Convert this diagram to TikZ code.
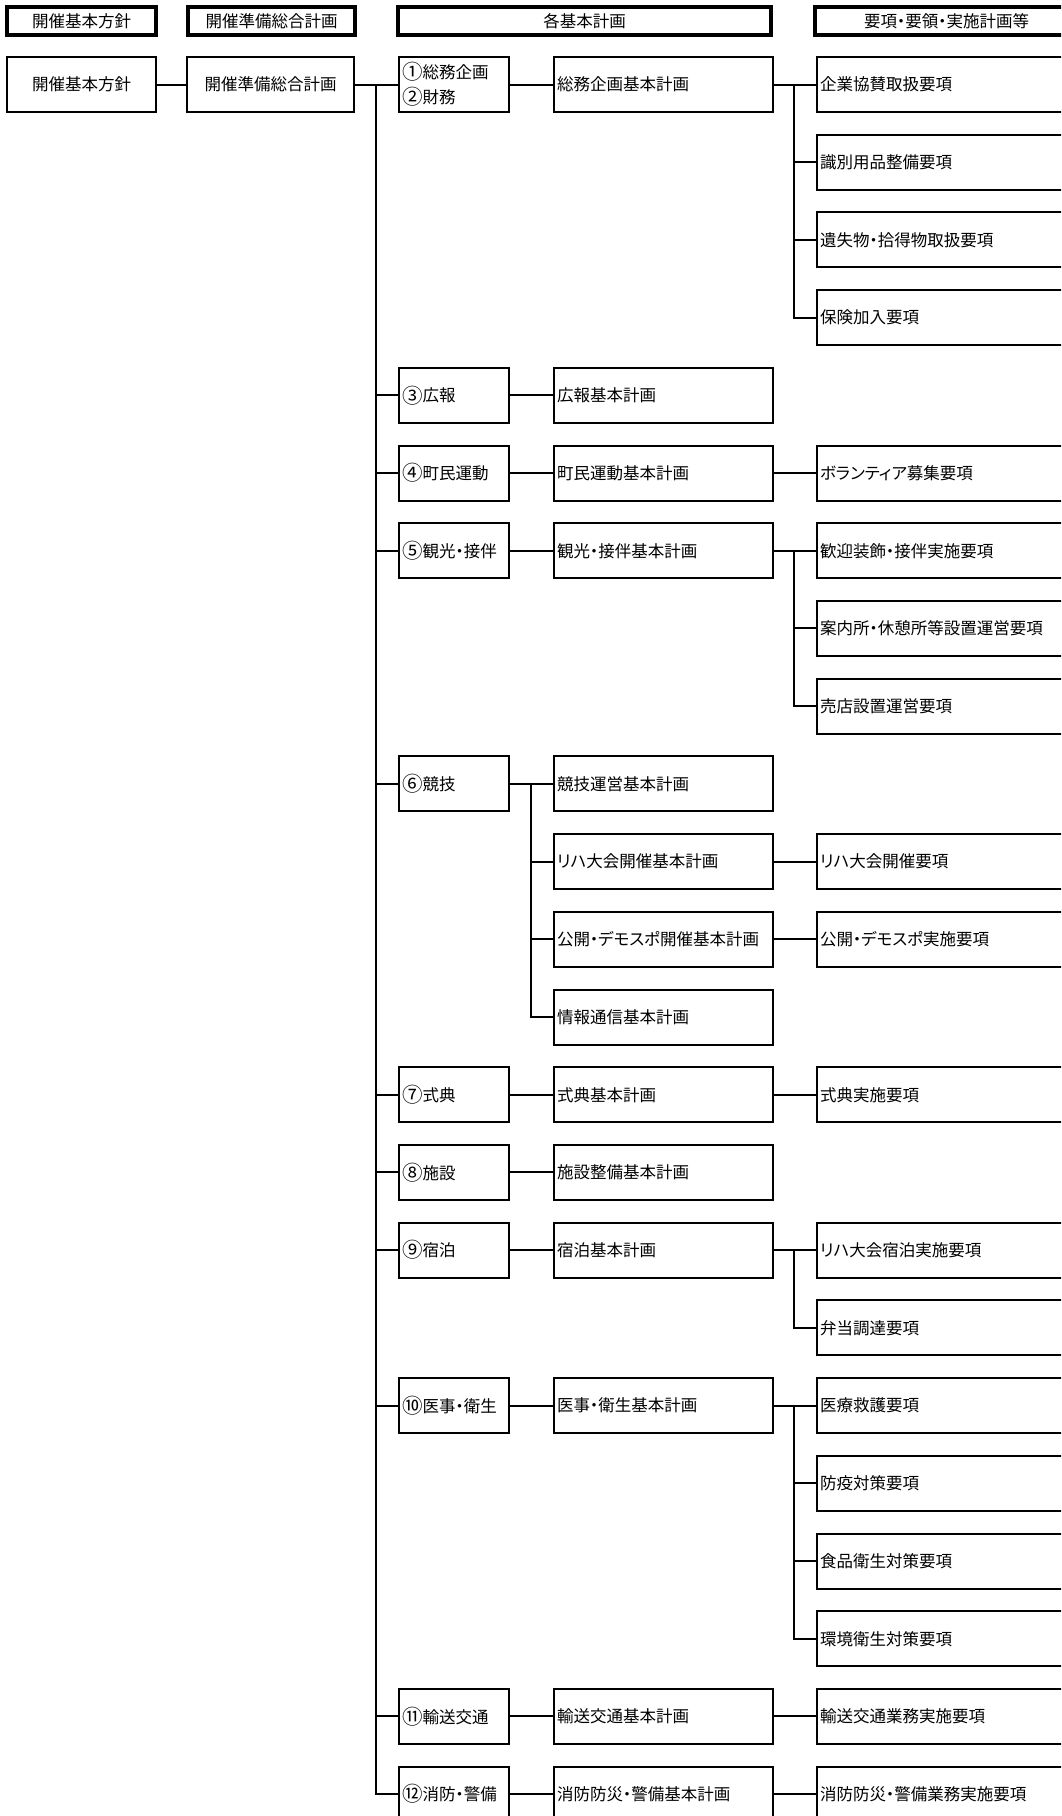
\documentclass[tikz,border=0pt]{standalone}
\usepackage{fontspec}
\setmainfont{Noto Sans CJK JP}[RawFeature=+palt]
\newcommand{\rowy}[1]{{84.5+77.71*#1}}
\newcommand{\cnum}[1]{\raisebox{-1.2pt}{\fontsize{20.5}{25}\selectfont #1}}

\begin{document}
\begin{tikzpicture}[x=1pt,y=-1pt,line width=2pt,
    font=\fontsize{16.5}{25}\selectfont,
    hbox/.style={draw, line width=3.2pt, minimum height=28pt, inner sep=0pt},
    cbox/.style={draw, line width=2pt, minimum height=55pt, inner sep=0pt},
    lbox/.style={draw, line width=2pt, minimum height=55pt, inner xsep=3pt, inner ysep=0pt, anchor=west, align=left},
    grp/.style={lbox, text width=104pt},
    plan/.style={lbox, text width=213pt},
    item/.style={lbox, text width=274pt}]
    \useasboundingbox (0,0) rectangle (1061,1816);
    \clip (0,0) rectangle (1061,1816);

    % column headings
    \node[hbox, minimum width=149pt] (h1) at (81.5,21) {開催基本方針};
    \node[hbox, minimum width=167pt] (h2) at (271.5,21) {開催準備総合計画};
    \node[hbox, minimum width=373pt] (h3) at (584.5,21) {各基本計画};
    \node[hbox, minimum width=263pt] (h4) at (946.5,21) {要項・要領・実施計画等};

    % first two levels
    \node[cbox, minimum width=149pt] (a) at (81.5,\rowy{0}) {開催基本方針};
    \node[cbox, minimum width=167pt] (b) at (270.5,\rowy{0}) {開催準備総合計画};

    % sections
    \node[grp] (c0) at (398,\rowy{0}) {\cnum{①}総務企画\\\cnum{②}財務};
    \foreach \i/\txt in {4/\cnum{③}広報, 5/\cnum{④}町民運動, 6/\cnum{⑤}観光・接伴, 9/\cnum{⑥}競技,
        13/\cnum{⑦}式典, 14/\cnum{⑧}施設, 15/\cnum{⑨}宿泊, 17/\cnum{⑩}医事・衛生,
        21/\cnum{⑪}輸送交通, 22/\cnum{⑫}消防・警備} {
        \node[grp] (c\i) at (398,\rowy{\i}) {\txt};
    }

    % basic plans
    \foreach \i/\txt in {0/総務企画基本計画, 4/広報基本計画, 5/町民運動基本計画, 6/観光・接伴基本計画,
        9/競技運営基本計画, 10/リハ大会開催基本計画, 11/公開・デモスポ開催基本計画, 12/情報通信基本計画,
        13/式典基本計画, 14/施設整備基本計画, 15/宿泊基本計画, 17/医事・衛生基本計画,
        21/輸送交通基本計画, 22/消防防災・警備基本計画} {
        \node[plan] (d\i) at (553,\rowy{\i}) {\txt};
    }

    % items
    \foreach \i/\txt in {0/企業協賛取扱要項, 1/識別用品整備要項, 2/遺失物・拾得物取扱要項, 3/保険加入要項,
        5/ボランティア募集要項, 6/歓迎装飾・接伴実施要項, 7/案内所・休憩所等設置運営要項, 8/売店設置運営要項,
        10/リハ大会開催要項, 11/公開・デモスポ実施要項, 13/式典実施要項, 15/リハ大会宿泊実施要項,
        16/弁当調達要項, 17/医療救護要項, 18/防疫対策要項, 19/食品衛生対策要項, 20/環境衛生対策要項,
        21/輸送交通業務実施要項, 22/消防防災・警備業務実施要項} {
        \node[item] (e\i) at (816,\rowy{\i}) {\txt};
    }

    % trunk
    \draw (a) -- (b);
    \coordinate (t0) at (376,\rowy{0});
    \draw (b) -- (t0);
    \foreach \i in {0,4,5,6,9,13,14,15,17,21,22} {
        \draw (t0) |- (c\i.west);
        \draw (c\i) -- (d\i);
    }

    % competition plans
    \coordinate (s9) at (531,\rowy{9});
    \foreach \i in {10,11,12} \draw (s9) |- (d\i.west);

    % plans to items
    \foreach \i in {0,5,6,10,11,13,15,17,21,22} \draw (d\i) -- (e\i);
    \coordinate (s0) at (794,\rowy{0});
    \coordinate (s6) at (794,\rowy{6});
    \coordinate (s15) at (794,\rowy{15});
    \coordinate (s17) at (794,\rowy{17});
    \foreach \i in {1,2,3} \draw (s0) |- (e\i.west);
    \foreach \i in {7,8} \draw (s6) |- (e\i.west);
    \draw (s15) |- (e16.west);
    \foreach \i in {18,19,20} \draw (s17) |- (e\i.west);
\end{tikzpicture}
\end{document}
